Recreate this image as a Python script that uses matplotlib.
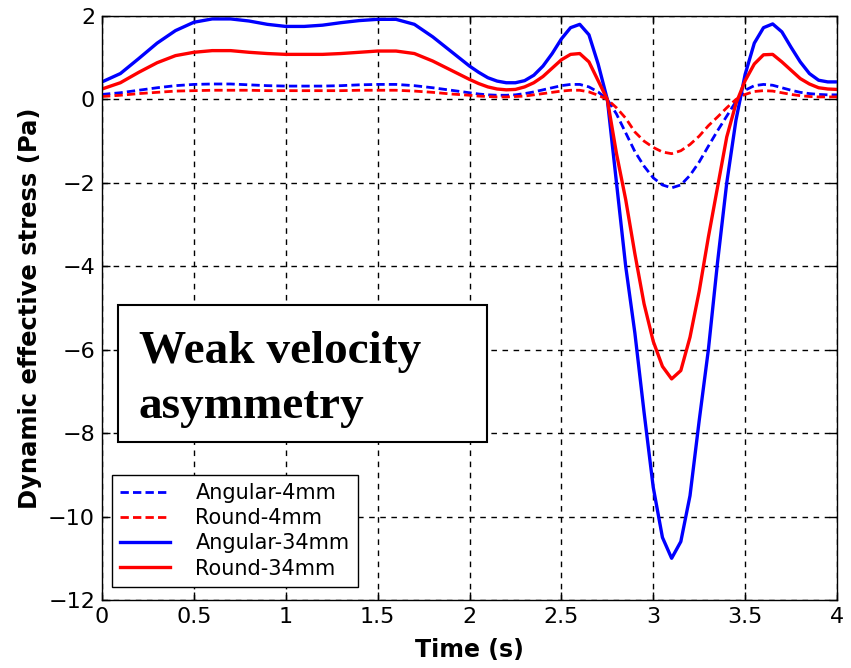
import matplotlib
matplotlib.use('Agg')
import matplotlib.pyplot as plt
from matplotlib.patches import Rectangle

# ---- data ----
t = [0.0, 0.1, 0.2, 0.3, 0.4, 0.5, 0.6, 0.7, 0.8, 0.9, 1.0,
     1.1, 1.2, 1.3, 1.4, 1.5, 1.6, 1.7, 1.8, 1.9, 2.0,
     2.05, 2.1, 2.15, 2.2, 2.25, 2.3, 2.35, 2.4, 2.45, 2.5,
     2.55, 2.6, 2.65, 2.7, 2.75, 2.8, 2.85, 2.9, 2.95, 3.0,
     3.05, 3.1, 3.15, 3.2, 3.25, 3.3, 3.35, 3.4, 3.45, 3.5,
     3.55, 3.6, 3.65, 3.7, 3.75, 3.8, 3.85, 3.9, 3.95, 4.0]

angular_4 = [0.12, 0.16, 0.22, 0.28, 0.33, 0.36, 0.37, 0.37, 0.35, 0.33, 0.32,
             0.32, 0.32, 0.33, 0.35, 0.36, 0.36, 0.33, 0.28, 0.22, 0.16,
             0.13, 0.11, 0.10, 0.10, 0.11, 0.14, 0.18, 0.23, 0.28, 0.33,
             0.36, 0.36, 0.30, 0.18, 0.0, -0.35, -0.80, -1.25, -1.60, -1.88,
             -2.05, -2.12, -2.05, -1.82, -1.50, -1.12, -0.75, -0.40, -0.05, 0.22,
             0.33, 0.36, 0.34, 0.28, 0.22, 0.17, 0.14, 0.12, 0.11, 0.11]

round_4 = [0.07, 0.10, 0.14, 0.17, 0.20, 0.21, 0.22, 0.22, 0.22, 0.21, 0.21,
           0.21, 0.21, 0.21, 0.22, 0.22, 0.22, 0.20, 0.17, 0.13, 0.10,
           0.08, 0.07, 0.06, 0.06, 0.07, 0.08, 0.11, 0.14, 0.17, 0.20,
           0.22, 0.22, 0.18, 0.10, 0.0, -0.20, -0.45, -0.78, -1.00, -1.15,
           -1.26, -1.30, -1.23, -1.08, -0.88, -0.63, -0.42, -0.20, 0.0, 0.12,
           0.19, 0.21, 0.20, 0.16, 0.12, 0.09, 0.07, 0.06, 0.06, 0.06]

angular_34 = [0.42, 0.62, 0.98, 1.35, 1.65, 1.85, 1.93, 1.93, 1.88, 1.80, 1.75,
              1.75, 1.78, 1.84, 1.89, 1.92, 1.92, 1.80, 1.50, 1.15, 0.80,
              0.65, 0.52, 0.44, 0.40, 0.40, 0.45, 0.58, 0.80, 1.10, 1.45,
              1.72, 1.80, 1.55, 0.85, 0.0, -2.0, -4.0, -5.6, -7.5, -9.3,
              -10.5, -11.0, -10.6, -9.5, -7.7, -6.0, -3.9, -2.0, -0.5, 0.6,
              1.35, 1.72, 1.81, 1.62, 1.25, 0.90, 0.62, 0.46, 0.42, 0.42]

round_34 = [0.25, 0.40, 0.65, 0.88, 1.05, 1.13, 1.17, 1.17, 1.13, 1.10, 1.08,
            1.08, 1.08, 1.10, 1.13, 1.16, 1.16, 1.10, 0.92, 0.70, 0.48,
            0.38, 0.30, 0.25, 0.23, 0.24, 0.30, 0.40, 0.55, 0.75, 0.95,
            1.08, 1.10, 0.90, 0.45, 0.0, -1.3, -2.4, -3.7, -4.9, -5.8,
            -6.4, -6.7, -6.5, -5.7, -4.6, -3.3, -2.1, -0.9, -0.1, 0.45,
            0.85, 1.07, 1.08, 0.90, 0.70, 0.50, 0.37, 0.28, 0.25, 0.24]

xticks = [0, 0.5, 1, 1.5, 2, 2.5, 3, 3.5, 4]
xticklabels = ['0', '0.5', '1', '1.5', '2', '2.5', '3', '3.5', '4']
yticks = [2, 0, -2, -4, -6, -8, -10, -12]
yticklabels = ['2', '0', '\u22122', '\u22124', '\u22126', '\u22128', '\u221210', '\u221212']

# ---- figure ----
W, H = 851, 668
f = plt.figure(figsize=(W / 100, H / 100), dpi=100)
ax = f.add_axes([102 / W, 1 - 600 / H, 735 / W, 584 / H])

ax.plot(t, angular_4, color='#0000ff', lw=2.0, ls=(0, (3, 1.5)), label='Angular-4mm')
ax.plot(t, round_4, color='#ff0000', lw=2.0, ls=(0, (3, 1.5)), label='Round-4mm')
ax.plot(t, angular_34, color='#0000ff', lw=2.4, label='Angular-34mm')
ax.plot(t, round_34, color='#ff0000', lw=2.4, label='Round-34mm')

ax.set_xlim(0, 4)
ax.set_ylim(-12, 2)
ax.set_xticks(xticks)
ax.set_xticklabels(xticklabels)
ax.set_yticks(yticks)
ax.set_yticklabels(yticklabels)
ax.grid(True, color='black', ls=(0, (4, 4)), lw=1.0)
ax.tick_params(direction='in', top=True, right=True, length=6, width=1,
               labelsize=16, pad=5)
for s in ax.spines.values():
    s.set_linewidth(1.0)

ax.set_xlabel('Time (s)', fontsize=17, fontweight='bold', labelpad=8)
ax.set_ylabel('Dynamic effective stress (Pa)', fontsize=17.5, fontweight='bold', labelpad=4)

leg = ax.legend(loc='lower left', bbox_to_anchor=(10 / 735, 13 / 584),
                borderaxespad=0, fontsize=15, fancybox=False, framealpha=1,
                edgecolor='black', handlelength=2.4, labelspacing=0.25,
                borderpad=0.4, handletextpad=1.2)
leg.get_frame().set_linewidth(1.0)

# annotation box
f.patches.append(Rectangle((118 / W, 1 - 442 / H), 369 / W, 137 / H,
                           transform=f.transFigure, facecolor='white',
                           edgecolor='black', lw=1.5, zorder=5))
f.text(139 / W, 1 - 363 / H, 'Weak velocity', fontsize=34,
       fontweight='bold', family='Liberation Serif', va='baseline', ha='left',
       zorder=6)
f.text(139 / W, 1 - 418 / H, 'asymmetry', fontsize=34,
       fontweight='bold', family='Liberation Serif', va='baseline', ha='left',
       zorder=6)

f.savefig('out.png', dpi=100)
